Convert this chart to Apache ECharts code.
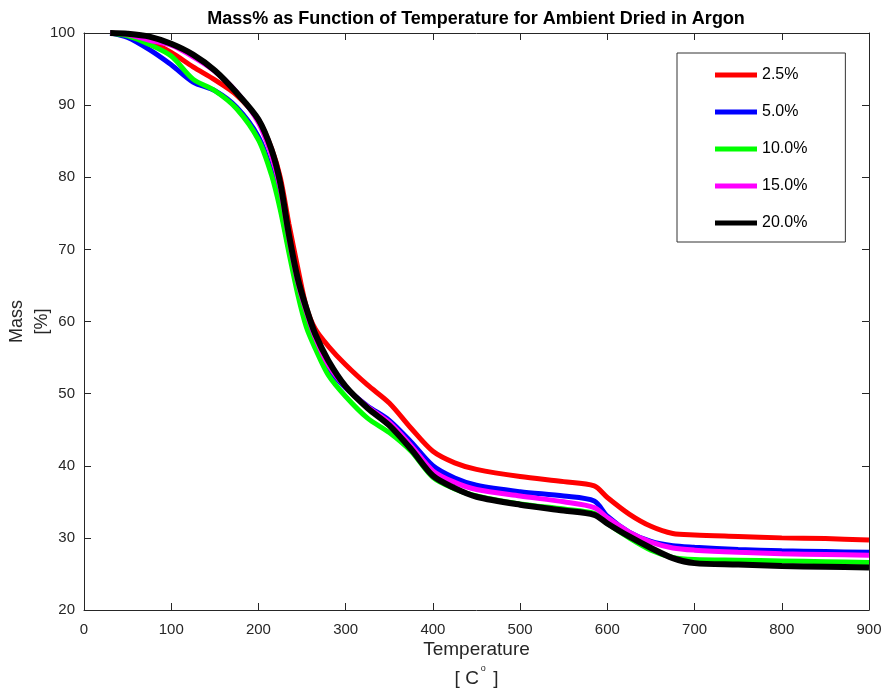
<!DOCTYPE html>
<html>
<head>
<meta charset="utf-8">
<script src="https://cdn.jsdelivr.net/npm/echarts@6/dist/echarts.min.js"></script>
<style>
  html, body { margin: 0; padding: 0; background: #fff; }
  #chart { width: 888px; height: 691px; }
</style>
</head>
<body>
<div id="chart"></div>
<script>
// temperature points (C) shared by every curve
var temps = [30, 50, 75, 100, 125, 150, 175, 200, 215, 225, 235, 245, 255, 265, 280, 300, 325, 350, 375, 400, 425, 450, 500, 550, 585, 600, 625, 650, 675, 700, 750, 800, 850, 900];

// mass %
var mass25 = [100, 99.7, 98.8, 97.3, 95.3, 93.5, 91.4, 88.0, 84.0, 80.0, 73.5, 67.5, 62.0, 59.0, 56.6, 54.0, 51.2, 48.7, 45.2, 42.0, 40.4, 39.5, 38.5, 37.8, 37.2, 35.6, 33.3, 31.6, 30.6, 30.4, 30.2, 30.0, 29.9, 29.7];
var mass50 = [100, 99.4, 97.7, 95.6, 93.2, 92.0, 89.7, 85.6, 80.8, 76.0, 70.0, 64.5, 60.3, 57.0, 53.5, 50.8, 48.3, 46.3, 43.3, 40.0, 38.3, 37.3, 36.4, 35.8, 35.1, 33.0, 30.8, 29.5, 28.9, 28.7, 28.4, 28.2, 28.1, 28.0];
var mass100 = [100, 99.6, 98.4, 96.8, 93.6, 92.0, 89.5, 85.2, 80.3, 75.5, 69.5, 63.8, 59.2, 56.3, 52.6, 49.6, 46.6, 44.6, 42.0, 38.4, 36.8, 35.8, 34.7, 34.0, 33.4, 32.0, 30.0, 28.3, 27.3, 27.0, 26.9, 26.8, 26.7, 26.6];
var mass150 = [100, 99.8, 99.0, 98.3, 96.7, 94.7, 91.8, 87.6, 83.0, 78.5, 71.5, 65.5, 61.3, 57.8, 54.0, 50.9, 48.2, 46.0, 42.8, 39.3, 37.7, 36.7, 35.8, 35.0, 34.2, 32.8, 30.8, 29.4, 28.6, 28.3, 28.0, 27.8, 27.7, 27.6];
var mass200 = [100, 99.9, 99.5, 98.5, 97.0, 94.8, 91.7, 88.0, 83.8, 79.2, 72.0, 66.0, 61.8, 58.3, 54.6, 51.0, 48.0, 45.6, 42.3, 38.6, 36.9, 35.7, 34.6, 33.8, 33.2, 32.0, 30.2, 28.6, 27.2, 26.5, 26.3, 26.1, 26.0, 25.9];

var seriesNames = ['2.5%', '5.0%', '10.0%', '15.0%', '20.0%'];
var seriesColors = ['#ff0000', '#0000ff', '#00ff00', '#ff00ff', '#000000'];
var seriesMass = [mass25, mass50, mass100, mass150, mass200];

var xTicks = [0, 100, 200, 300, 400, 500, 600, 700, 800, 900];
var yTicks = [20, 30, 40, 50, 60, 70, 80, 90, 100];

var chart = echarts.init(document.getElementById('chart'));

var axisColor = '#262626';
var font = 'Liberation Sans, Arial, sans-serif';
var tickLen = 7;

function pairs(ys) {
  return temps.map(function (t, i) { return [t, ys[i]]; });
}

var series = seriesNames.map(function (name, i) {
  return {
    name: name,
    type: 'line',
    data: pairs(seriesMass[i]),
    showSymbol: false,
    smooth: 0.3,
    lineStyle: { color: seriesColors[i], width: i === 4 ? 6 : 5 },
    itemStyle: { color: seriesColors[i] },
    z: 2 + i
  };
});

// frame axis: inward ticks, no labels
function frameX(pos, inside) {
  return {
    type: 'value', position: pos,
    min: xTicks[0], max: xTicks[xTicks.length - 1], interval: 100,
    axisLine: { show: true, onZero: false, lineStyle: { color: axisColor, width: 1 } },
    axisTick: { show: true, inside: inside, length: tickLen, lineStyle: { color: axisColor, width: 1 } },
    axisLabel: { show: false },
    splitLine: { show: false }
  };
}
function frameY(pos, inside) {
  return {
    type: 'value', position: pos,
    min: yTicks[0], max: yTicks[yTicks.length - 1], interval: 10,
    axisLine: { show: true, onZero: false, lineStyle: { color: axisColor, width: 1 } },
    axisTick: { show: true, inside: inside, length: tickLen, lineStyle: { color: axisColor, width: 1 } },
    axisLabel: { show: false },
    splitLine: { show: false }
  };
}

var xMain = frameX('bottom', true);
xMain.axisTick = { show: true, inside: true, length: tickLen, lineStyle: { color: axisColor, width: 1 } };
xMain.axisLabel = { show: true, color: axisColor, fontFamily: font, fontSize: 15, margin: 12 };
xMain.name = 'Temperature\n[ C{sup|o} ]';
xMain.nameLocation = 'middle';
xMain.nameGap = 25;
xMain.nameMoveOverlap = false;
xMain.nameTextStyle = {
  fontFamily: font, fontSize: 19, color: axisColor, lineHeight: 29,
  rich: { sup: { fontFamily: font, fontSize: 9, color: axisColor, verticalAlign: 'top', padding: [0, 2, 12, 2] } }
};

var yMain = frameY('left', true);
yMain.axisTick = { show: true, inside: true, length: tickLen, lineStyle: { color: axisColor, width: 1 } };
yMain.axisLabel = { show: true, color: axisColor, fontFamily: font, fontSize: 15, margin: 9 };
yMain.name = 'Mass\n[%]';
yMain.nameLocation = 'middle';
yMain.nameRotate = 90;
yMain.nameGap = 29;
yMain.nameMoveOverlap = false;
yMain.nameTextStyle = { fontFamily: font, fontSize: 18, color: axisColor, lineHeight: 25 };

chart.setOption({
  backgroundColor: '#fff',
  animation: false,
  title: {
    text: 'Mass% as Function of Temperature for Ambient Dried in Argon',
    left: 476,
    top: 10,
    padding: 0,
    textAlign: 'center',
    textStyle: { fontFamily: font, fontSize: 18, fontWeight: 'bold', color: '#000' }
  },
  legend: {
    orient: 'vertical',
    left: 677,
    top: 53,
    data: seriesNames,
    icon: 'rect',
    itemWidth: 42,
    itemHeight: 5,
    itemGap: 21,
    padding: [14, 38, 11, 38],
    backgroundColor: '#fff',
    borderColor: '#333',
    borderWidth: 1,
    textStyle: { fontFamily: font, fontSize: 16, color: '#000' }
  },
  grid: { left: 84, right: 19, top: 33, bottom: 81, containLabel: false, outerBoundsMode: 'none' },
  xAxis: [xMain, frameX('top', true)],
  yAxis: [yMain, frameY('right', true)],
  series: series
});
</script>
</body>
</html>
